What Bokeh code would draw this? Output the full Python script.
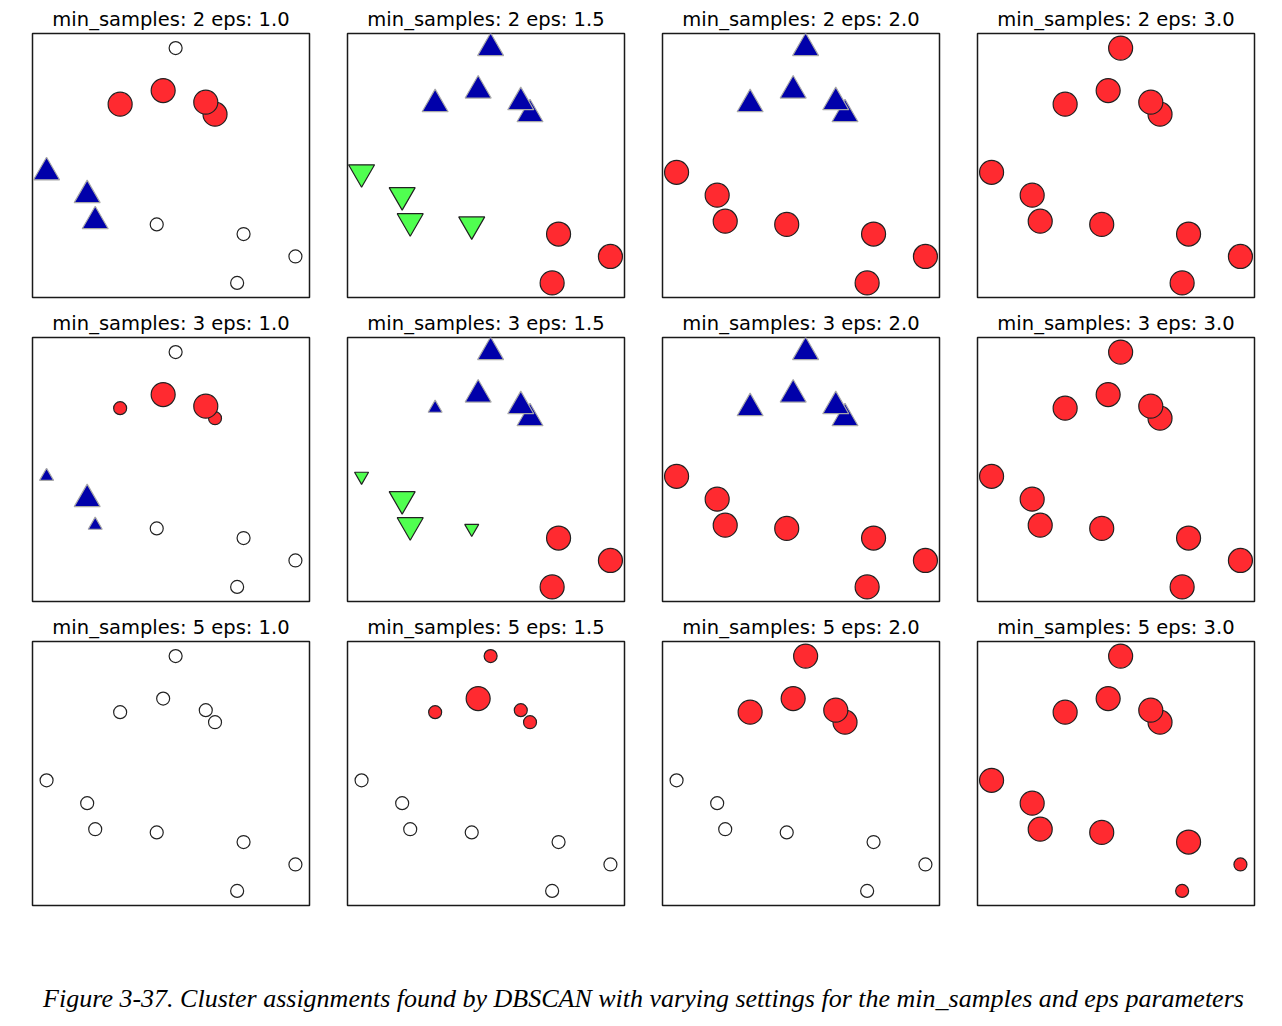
import numpy as np
from bokeh.plotting import figure
from bokeh.layouts import gridplot, column
from bokeh.models import Range1d, Label
from bokeh.embed import file_html
from bokeh.resources import INLINE

# ---- data: 12 two-dimensional samples ----
x = [1.26, 0.95, -0.12, 2.24, 2.01, -1.95, -0.94, -0.74, 0.79, 2.95, 4.24, 2.79]
y = [5.63, 4.57, 4.23, 3.98, 4.28, 2.53, 1.96, 1.31, 1.23, 0.99, 0.43, -0.23]

min_samples_values = [2, 3, 5]
eps_values = [1.0, 1.5, 2.0, 3.0]

# cluster labels (-1 = noise) and core-sample flags for each (min_samples, eps)
labels = {
    (2, 1.0): [-1, 0, 0, 0, 0, 1, 1, 1, -1, -1, -1, -1],
    (2, 1.5): [1, 1, 1, 1, 1, 2, 2, 2, 2, 0, 0, 0],
    (2, 2.0): [1, 1, 1, 1, 1, 0, 0, 0, 0, 0, 0, 0],
    (2, 3.0): [0, 0, 0, 0, 0, 0, 0, 0, 0, 0, 0, 0],
    (3, 1.0): [-1, 0, 0, 0, 0, 1, 1, 1, -1, -1, -1, -1],
    (3, 1.5): [1, 1, 1, 1, 1, 2, 2, 2, 2, 0, 0, 0],
    (3, 2.0): [1, 1, 1, 1, 1, 0, 0, 0, 0, 0, 0, 0],
    (3, 3.0): [0, 0, 0, 0, 0, 0, 0, 0, 0, 0, 0, 0],
    (5, 1.0): [-1, -1, -1, -1, -1, -1, -1, -1, -1, -1, -1, -1],
    (5, 1.5): [0, 0, 0, 0, 0, -1, -1, -1, -1, -1, -1, -1],
    (5, 2.0): [0, 0, 0, 0, 0, -1, -1, -1, -1, -1, -1, -1],
    (5, 3.0): [0, 0, 0, 0, 0, 0, 0, 0, 0, 0, 0, 0],
}
core = {
    (2, 1.0): [0, 1, 1, 1, 1, 1, 1, 1, 0, 0, 0, 0],
    (2, 1.5): [1, 1, 1, 1, 1, 1, 1, 1, 1, 1, 1, 1],
    (2, 2.0): [1, 1, 1, 1, 1, 1, 1, 1, 1, 1, 1, 1],
    (2, 3.0): [1, 1, 1, 1, 1, 1, 1, 1, 1, 1, 1, 1],
    (3, 1.0): [0, 1, 0, 0, 1, 0, 1, 0, 0, 0, 0, 0],
    (3, 1.5): [1, 1, 0, 1, 1, 0, 1, 1, 0, 1, 1, 1],
    (3, 2.0): [1, 1, 1, 1, 1, 1, 1, 1, 1, 1, 1, 1],
    (3, 3.0): [1, 1, 1, 1, 1, 1, 1, 1, 1, 1, 1, 1],
    (5, 1.0): [0, 0, 0, 0, 0, 0, 0, 0, 0, 0, 0, 0],
    (5, 1.5): [0, 1, 0, 0, 0, 0, 0, 0, 0, 0, 0, 0],
    (5, 2.0): [1, 1, 1, 1, 1, 0, 0, 0, 0, 0, 0, 0],
    (5, 3.0): [1, 1, 1, 1, 1, 1, 1, 1, 1, 1, 0, 0],
}

caption = ("Figure 3-37. Cluster assignments found by DBSCAN with varying "
           "settings for the min_samples and eps parameters")

# ---- styles ----
cluster_colors = ["#ff2a30", "#0000aa", "#50ff50"]
cluster_markers = ["circle", "triangle", "inverted_triangle"]
cluster_edges = ["#222222", "#a8a8a8", "#222222"]
SMALL = {"circle": 13, "triangle": 14, "inverted_triangle": 14}
BIG = {"circle": 24, "triangle": 26, "inverted_triangle": 26}

xa = np.array(x)
ya = np.array(y)
padx = 0.2 * xa.std()
pady = 0.2 * ya.std()
x_lo, x_hi = xa.min() - padx, xa.max() + padx
y_lo, y_hi = ya.min() - pady, ya.max() + pady


def panel(ms, eps):
    lab = np.array(labels[(ms, eps)])
    cor = np.array(core[(ms, eps)], dtype=bool)
    p = figure(width=315, height=304,
               x_range=Range1d(x_lo, x_hi), y_range=Range1d(y_lo, y_hi),
               toolbar_location=None, output_backend="svg",
               x_axis_location=None, y_axis_location=None,
               min_border_left=32, min_border_right=6,
               min_border_top=33, min_border_bottom=7,
               title=f"min_samples: {ms} eps: {eps}")
    p.grid.visible = False
    p.outline_line_color = "#1a1a1a"
    p.outline_line_width = 1.5
    p.title.align = "center"
    p.title.text_font = "DejaVu Sans"
    p.title.text_font_size = "19.5px"
    p.title.text_font_style = "normal"
    p.title.text_color = "black"
    p.title.standoff = 5
    p.title.offset = 0
    # all points, small
    if np.any(lab == -1):
        m = lab == -1
        p.scatter(xa[m], ya[m], marker="circle", size=SMALL["circle"],
                  fill_color="white", line_color="#222222", line_width=1.2)
    for k in sorted(set(lab.tolist()) - {-1}):
        m = lab == k
        mk = cluster_markers[k]
        p.scatter(xa[m], ya[m], marker=mk, size=SMALL[mk],
                  fill_color=cluster_colors[k], line_color=cluster_edges[k],
                  line_width=1.2)
    # core samples, big
    for k in sorted(set(lab[cor].tolist())):
        m = cor & (lab == k)
        mk = cluster_markers[k]
        p.scatter(xa[m], ya[m], marker=mk, size=BIG[mk],
                  fill_color=cluster_colors[k], line_color=cluster_edges[k],
                  line_width=1.2)
    return p


figs = [panel(ms, eps) for ms in min_samples_values for eps in eps_values]
grid = gridplot(figs, ncols=4, toolbar_location=None)

cap = figure(width=1268, height=100, x_range=Range1d(0, 1268),
             y_range=Range1d(0, 100), toolbar_location=None,
             output_backend="svg", x_axis_location=None, y_axis_location=None,
             min_border=0)
cap.grid.visible = False
cap.outline_line_color = None
cap.add_layout(Label(x=643, y=14, text=caption, text_align="center",
                     text_baseline="middle", text_font="Liberation Serif",
                     text_font_style="italic", text_font_size="26px",
                     text_color="black"))

layout = column(grid, cap)
open("out.html", "w").write(file_html(layout, INLINE))
